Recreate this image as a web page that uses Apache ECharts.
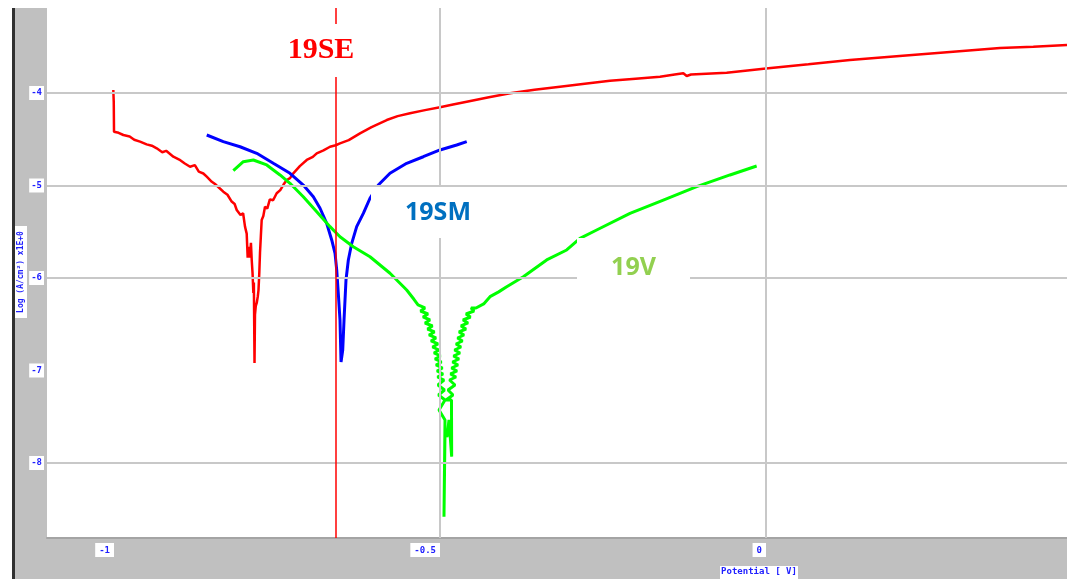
<!DOCTYPE html>
<html><head><meta charset="utf-8">
<script src="https://cdn.jsdelivr.net/npm/echarts@6/dist/echarts.min.js"></script>
<style>html,body{margin:0;padding:0;background:#fff}#c{width:1067px;height:579px}</style>
</head><body><div id="c"></div>
<script>
// Potential [V] vs log(A/cm2)
const red19SE = [
[-1.0011,-3.968],[-1.0004,-4.10],[-1.0000,-4.418],[-0.9930,-4.430],[-0.9857,-4.454],[-0.9760,-4.470],[-0.9690,-4.505],[-0.9601,-4.526],
[-0.9500,-4.555],[-0.9420,-4.570],[-0.9345,-4.598],[-0.9260,-4.640],[-0.9200,-4.625],[-0.9090,-4.689],[-0.9000,-4.720],[-0.8920,-4.760],
[-0.8834,-4.797],[-0.8760,-4.780],[-0.8700,-4.850],[-0.8630,-4.870],[-0.8578,-4.905],[-0.8500,-4.960],[-0.8440,-4.990],[-0.8380,-5.030],
[-0.8324,-5.067],[-0.8260,-5.100],[-0.8200,-5.170],[-0.8150,-5.200],[-0.8118,-5.265],[-0.8060,-5.320],[-0.8020,-5.300],[-0.7991,-5.445],
[-0.7965,-5.520],[-0.7950,-5.780],[-0.7940,-5.662],[-0.7915,-5.780],[-0.7900,-5.620],[-0.7888,-5.805],[-0.7875,-5.950],[-0.7863,-6.162],
[-0.7855,-6.050],[-0.7845,-6.919],[-0.7838,-6.400],[-0.7825,-6.300],[-0.7811,-6.270],[-0.7795,-6.200],[-0.7784,-6.130],[-0.7772,-5.950],
[-0.7761,-5.730],[-0.7748,-5.550],[-0.7735,-5.373],[-0.7710,-5.330],[-0.7684,-5.229],[-0.7650,-5.250],[-0.7610,-5.150],[-0.7560,-5.160],
[-0.7505,-5.084],[-0.7450,-5.050],[-0.7400,-4.990],[-0.7351,-4.941],[-0.7300,-4.920],[-0.7250,-4.868],[-0.7150,-4.790],[-0.7044,-4.724],
[-0.6950,-4.690],[-0.6891,-4.652],[-0.6787,-4.620],[-0.6687,-4.581],[-0.6600,-4.565],[-0.6534,-4.544],[-0.6400,-4.510],[-0.6227,-4.436],
[-0.6050,-4.370],[-0.5817,-4.292],[-0.5650,-4.250],[-0.5460,-4.219],[-0.5230,-4.185],[-0.5000,-4.155],[-0.4800,-4.125],[-0.4590,-4.094],
[-0.4250,-4.045],[-0.3926,-4.003],[-0.3550,-3.965],[-0.3160,-3.932],[-0.2780,-3.900],[-0.2393,-3.867],[-0.2000,-3.845],[-0.1626,-3.824],
[-0.1400,-3.800],[-0.1268,-3.787],[-0.1216,-3.816],[-0.1150,-3.800],[-0.0603,-3.781],[0.0000,-3.735],[0.0650,-3.690],[0.1288,-3.643],
[0.2050,-3.600],[0.2822,-3.557],[0.3589,-3.514],[0.4100,-3.500],[0.4617,-3.481]
];
const blue19SM = [
[-0.8578,-4.454],[-0.8324,-4.526],[-0.8067,-4.581],[-0.7811,-4.652],[-0.7557,-4.760],[-0.7301,-4.868],[-0.7097,-4.995],[-0.6943,-5.121],
[-0.6840,-5.246],[-0.6738,-5.409],[-0.6661,-5.589],[-0.6610,-5.733],[-0.6584,-5.914],[-0.6560,-6.165],[-0.6534,-6.454],[-0.6518,-6.908],
[-0.6492,-6.778],[-0.6472,-6.454],[-0.6442,-6.022],[-0.6406,-5.805],[-0.6354,-5.625],[-0.6278,-5.445],[-0.6176,-5.301],[-0.6074,-5.138],
[-0.5946,-4.995],[-0.5767,-4.868],[-0.5511,-4.760],[-0.5256,-4.689],[-0.5000,-4.616],[-0.4744,-4.562],[-0.4590,-4.526]
];
const green19V = [
[-0.8170,-4.840],[-0.8017,-4.743],[-0.7863,-4.724],[-0.7658,-4.778],[-0.7454,-4.886],[-0.7301,-4.976],[-0.7097,-5.121],[-0.6891,-5.283],
[-0.6687,-5.445],[-0.6534,-5.554],[-0.6330,-5.662],[-0.6074,-5.770],[-0.5767,-5.949],[-0.5511,-6.130],[-0.5400,-6.230],
[-0.53374,-6.2919],[-0.52301,-6.3243],[-0.52991,-6.3568],[-0.51840,-6.3892],[-0.52607,-6.4216],[-0.51534,-6.4541],[-0.52301,-6.4865],
[-0.51150,-6.5189],[-0.51917,-6.5514],[-0.50844,-6.5838],[-0.51687,-6.6162],[-0.50613,-6.6486],[-0.51380,-6.6811],[-0.50307,-6.7135],
[-0.51150,-6.7459],[-0.50153,-6.7784],[-0.50920,-6.8108],[-0.49923,-6.8432],[-0.50767,-6.8757],[-0.49770,-6.9081],[-0.50613,-6.9405],
[-0.49617,-6.9730],[-0.50460,-7.0054],[-0.49540,-7.0378],[-0.50383,-7.0703],[-0.49387,-7.1027],[-0.50307,-7.1568],[-0.49310,-7.2108],
[-0.50230,-7.2649],[-0.49233,-7.3189],[-0.50153,-7.4270],[-0.49233,-7.5351],
[-0.4939,-8.581],[-0.4923,-7.643],[-0.4893,-7.719],[-0.4862,-7.535],[-0.4821,-7.932],[-0.4824,-7.319],
[-0.49080,-7.3189],[-0.48006,-7.2649],[-0.48773,-7.2108],[-0.47699,-7.1568],[-0.48543,-7.1027],[-0.47546,-7.0703],[-0.48390,-7.0378],
[-0.47393,-7.0054],[-0.48236,-6.9730],[-0.47239,-6.9405],[-0.48083,-6.9081],[-0.47086,-6.8757],[-0.47929,-6.8432],[-0.46933,-6.8108],
[-0.47776,-6.7784],[-0.46779,-6.7459],[-0.47546,-6.7135],[-0.46549,-6.6811],[-0.47316,-6.6486],[-0.46319,-6.6162],[-0.47086,-6.5838],
[-0.46012,-6.5514],[-0.46779,-6.5189],[-0.45706,-6.4865],[-0.46472,-6.4541],[-0.45322,-6.4216],[-0.46012,-6.3892],[-0.44785,-6.3568],
[-0.45245,-6.3243],[-0.4448,-6.324],[-0.4330,-6.280],[-0.4233,-6.202],[-0.4100,-6.150],[-0.3977,-6.094],[-0.3722,-5.986],[-0.3364,-5.805],
[-0.3057,-5.697],[-0.2853,-5.571],[-0.2597,-5.481],[-0.2086,-5.301],[-0.1575,-5.157],[-0.1063,-5.013],[-0.0552,-4.886],[-0.0143,-4.789]
];
const yTicks = [-4, -5, -6, -7, -8];
const yGridValues = [-4, -5, -6, -8];
const xTicks = [-1, -0.5, 0];
const xTickLabels = {'-1': '-1', '-0.5': '-0.5', '0': '0'};
const xGridValues = [-0.5, 0];
const markerX = -0.6555;
const xMin = -1.1028, xMax = 0.4617, yMin = -8.811, yMax = -3.081;

const chart = echarts.init(document.getElementById('c'), null, {renderer: 'canvas'});
const gridLines = [];
yGridValues.forEach(v => gridLines.push({yAxis: v}));
xGridValues.forEach(v => gridLines.push({xAxis: v}));

const lbl = (x, y, w, h, text, color, font) => ([
  {type: 'rect', z: 100, shape: {x: x, y: y, width: w, height: h}, style: {fill: '#fff'}},
  {type: 'text', z: 101, x: x + w / 2, y: y + h / 2, style: {text: text, fill: color, font: font, align: 'center', verticalAlign: 'middle'}}
]);

chart.setOption({
  animation: false,
  grid: {left: 47, right: 0, top: 8, bottom: 41, show: false},
  xAxis: {
    type: 'value', min: xMin, max: xMax,
    splitLine: {show: false},
    axisTick: {show: false},
    axisLine: {show: true, onZero: false, lineStyle: {color: '#a4a4a4', width: 2}},
    axisLabel: {
      customValues: xTicks, showMinLabel: true, showMaxLabel: true,
      formatter: v => xTickLabels[String(v)] || String(v),
      color: '#2020ff', fontSize: 9, fontFamily: 'DejaVu Sans Mono', fontWeight: 'bold',
      backgroundColor: '#fff', padding: [3, 4, 2, 4], align: 'right', margin: 5
    }
  },
  yAxis: {
    type: 'value', min: yMin, max: yMax,
    splitLine: {show: false},
    axisTick: {show: false},
    axisLine: {show: false},
    axisLabel: {
      customValues: yTicks,
      color: '#2020ff', fontSize: 9, fontFamily: 'DejaVu Sans Mono', fontWeight: 'bold',
      backgroundColor: '#fff', padding: [3, 2, 2, 2], margin: 3
    }
  },
  graphic: [
    {type: 'rect', z: -20, silent: true, shape: {x: 12, y: 8, width: 1055, height: 571}, style: {fill: '#c0c0c0'}},
    {type: 'rect', z: -19, silent: true, shape: {x: 47, y: 8, width: 1020, height: 530}, style: {fill: '#fff'}},
    {type: 'rect', z: -18, silent: true, shape: {x: 12, y: 8, width: 3, height: 571}, style: {fill: '#303030'}},
    ...lbl(280, 24, 82, 53, '19SE', '#ff0000', 'bold 30px "Liberation Serif"'),
    ...lbl(371, 187, 134, 51, '19SM', '#0070c0', 'bold 25px "Open Sans"'),
    ...lbl(577, 238, 113, 60, '19V', '#92d050', 'bold 25px "Open Sans"'),
    {type: 'rect', z: 100, shape: {x: 15, y: 226, width: 12, height: 92}, style: {fill: '#fff'}},
    {type: 'text', z: 101, x: 21, y: 272, rotation: Math.PI / 2,
      style: {text: 'Log (A/cm²) x1E+0', fill: '#2020ff', font: 'bold 8px "DejaVu Sans Mono"', align: 'center', verticalAlign: 'middle'}},
    {type: 'rect', z: 100, shape: {x: 720, y: 566, width: 78, height: 13}, style: {fill: '#fff'}},
    {type: 'text', z: 101, x: 759, y: 572,
      style: {text: 'Potential [ V]', fill: '#2020ff', font: 'bold 9px "DejaVu Sans Mono"', align: 'center', verticalAlign: 'middle'}}
  ],
  series: [
    {type: 'line', data: [], silent: true, z: 1,
      markLine: {silent: true, symbol: 'none', label: {show: false}, animation: false,
        lineStyle: {color: '#c8c8c8', width: 2, type: 'solid'}, data: gridLines}},
    {type: 'line', name: '19SE', data: red19SE, showSymbol: false, z: 3,
      lineStyle: {color: '#ff0000', width: 2.5}, itemStyle: {color: '#ff0000'},
      markLine: {silent: true, symbol: 'none', label: {show: false}, animation: false,
        lineStyle: {color: '#ff0000', width: 1.5, type: 'solid'}, data: [{xAxis: markerX}]}},
    {type: 'line', name: '19SM', data: blue19SM, showSymbol: false, z: 3,
      lineStyle: {color: '#0000ff', width: 3}, itemStyle: {color: '#0000ff'}},
    {type: 'line', name: '19V', data: green19V, showSymbol: false, z: 3,
      lineStyle: {color: '#00ff00', width: 3}, itemStyle: {color: '#00ff00'}}
  ]
});
</script></body></html>
